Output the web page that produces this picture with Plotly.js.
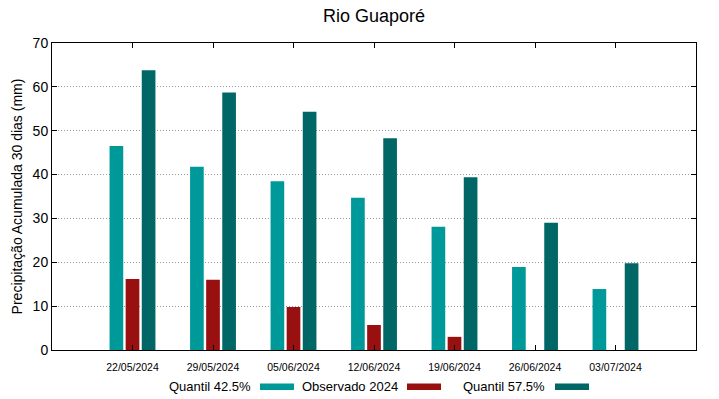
<!DOCTYPE html>
<html><head><meta charset="utf-8">
<script src="https://cdn.plot.ly/plotly-3.0.1.min.js"></script>
<style>body{margin:0;padding:0;background:#fff}#chart{width:719px;height:399px}</style>
</head><body><div id="chart"></div>
<script>
const categories = ["22/05/2024","29/05/2024","05/06/2024","12/06/2024","19/06/2024","26/06/2024","03/07/2024"];
const seriesNames = ["Quantil 42.5%","Observado 2024","Quantil 57.5%"];
const quantil425 = [46.5, 41.8, 38.5, 34.7, 28.1, 18.9, 13.9];
const observado2024 = [16.2, 16.0, 9.8, 5.7, 3.0, null, null];
const quantil575 = [63.8, 58.7, 54.3, 48.3, 39.4, 29.0, 19.8];
const colors = ["#009999", "#991010", "#006666"];
const xIdx = categories.map((c,i)=>i);
const bw = 0.17;
const offsets = [-0.2 - bw/2, -bw/2, 0.2 - bw/2];
const data = [quantil425, observado2024, quantil575].map((vals,k)=>({
  type:'bar', x:xIdx, y:vals, name:seriesNames[k], width:bw, offset:offsets[k],
  marker:{color:colors[k], line:{width:0}}, showlegend:false, hoverinfo:'skip'
}));
// gnuplot-like legend: text then sample
const legendText = [{x:253, sx:260},{x:400, sx:407},{x:547, sx:555}];
const annotations = seriesNames.map((n,k)=>({xref:'paper',yref:'paper',x:(legendText[k].x-52)/644,y:-(386-350)/307,
  text:n, showarrow:false, xanchor:'right', yanchor:'middle', font:{size:13,color:'#000'}}));
annotations.push({xref:'paper',yref:'paper',x:0.5,y:(43-16)/307+1,text:'Rio Guaporé',showarrow:false,xanchor:'center',yanchor:'middle',font:{size:18,color:'#000'}});
const shapes = seriesNames.map((n,k)=>({type:'rect',xref:'paper',yref:'paper',
  x0:(legendText[k].sx-52)/644, x1:(legendText[k].sx+34-52)/644,
  y0:-(390-350)/307, y1:-(383.5-350)/307, fillcolor:colors[k], line:{width:0}}));
const layout = {
  width:719, height:399, margin:{l:52,r:23,t:43,b:49},
  paper_bgcolor:'#fff', plot_bgcolor:'#fff',
  font:{family:'Liberation Sans, Arial, sans-serif', color:'#000'},
  barmode:'overlay',
  xaxis:{range:[-1,7], tickvals:xIdx, ticktext:categories, tickfont:{size:10.5},
    showgrid:false, zeroline:false, showline:true, linecolor:'#000', linewidth:1, mirror:'ticks',
    ticks:'inside', ticklen:5, tickcolor:'#000', ticklabelstandoff:7},
  yaxis:{range:[0,70], dtick:10, tickfont:{size:14}, showgrid:true, gridcolor:'#999999', griddash:'1px,2px', gridwidth:1,
    zeroline:false, showline:true, linecolor:'#000', linewidth:1, mirror:'ticks',
    ticks:'inside', ticklen:5, tickcolor:'#000',
    title:{text:'Precipitação Acumulada 30 dias (mm)', font:{size:14}, standoff:6}},
  annotations, shapes
};
Plotly.newPlot('chart', data, layout, {displayModeBar:false, staticPlot:true});
</script></body></html>
